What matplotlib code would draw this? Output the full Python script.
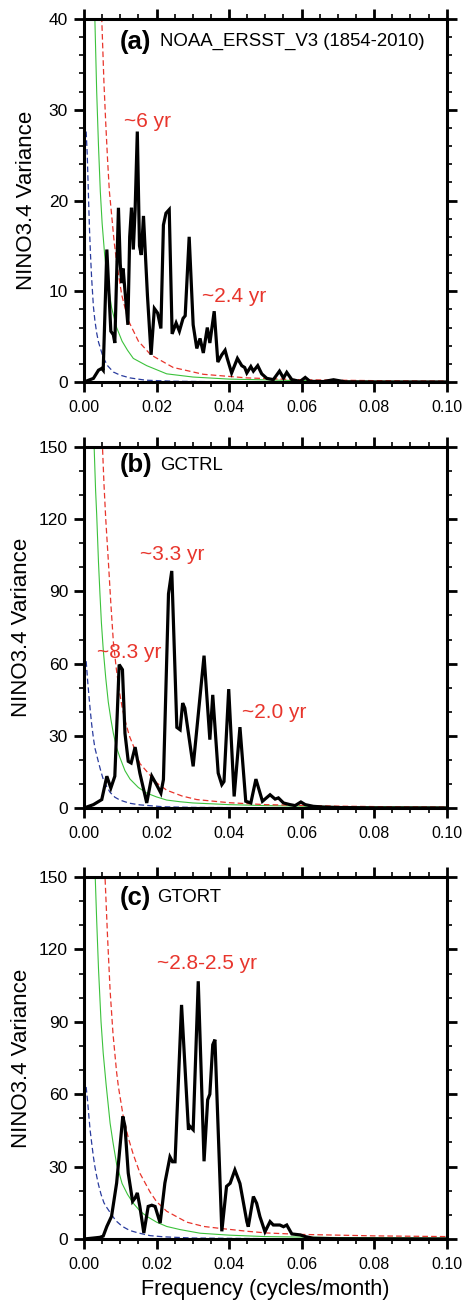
import numpy as np
import matplotlib
matplotlib.use("Agg")
import matplotlib.pyplot as plt
from matplotlib.ticker import MultipleLocator, FormatStrFormatter

plt.rcParams['font.family'] = ['Liberation Sans', 'DejaVu Sans']

# ---- data (frequency in cycles/month, variance) ----
# panel (a) NOAA_ERSST_V3
freq_a = [0.0, 0.0026, 0.004, 0.0049, 0.0053, 0.0063, 0.0074, 0.0081, 0.0085, 0.0095,
          0.0100, 0.0104, 0.0108, 0.0111, 0.0121, 0.0126, 0.0131, 0.0136, 0.0141, 0.0147,
          0.0153, 0.0158, 0.0164, 0.0175, 0.0185, 0.0194, 0.0203, 0.0212, 0.0219, 0.0226,
          0.0235, 0.0243, 0.0254, 0.0263, 0.0273, 0.0279, 0.029, 0.0301, 0.0311, 0.032,
          0.0329, 0.034, 0.0347, 0.0359, 0.0369, 0.038, 0.0389, 0.0395, 0.0407, 0.0423,
          0.0435, 0.0443, 0.0449, 0.046, 0.0467, 0.0479, 0.049, 0.0504, 0.0522, 0.0539,
          0.055, 0.0559, 0.0573, 0.0596, 0.061, 0.0623, 0.066, 0.0688, 0.072, 0.08, 0.1]
var_a = [0.0, 0.4, 1.3, 1.5, 1.3, 14.6, 5.6, 5.2, 4.3, 19.2,
         13.0, 10.9, 12.5, 11.0, 6.3, 16.0, 19.2, 14.6, 19.0, 27.6,
         15.0, 14.0, 18.3, 9.5, 3.0, 8.1, 7.6, 5.9, 17.3, 18.6,
         19.0, 5.3, 6.5, 5.6, 7.0, 7.3, 16.0, 6.3, 3.7, 4.8,
         3.2, 6.0, 4.3, 7.8, 2.2, 3.0, 3.5, 2.6, 1.0, 2.6,
         1.8, 1.6, 1.0, 1.7, 1.2, 1.8, 0.9, 0.4, 0.26, 1.2,
         0.44, 1.06, 0.26, 0.07, 0.5, 0.07, 0.05, 0.25, 0.02, 0.0, 0.0]
red_f_a = [0.0045, 0.0049, 0.0055, 0.006, 0.0065, 0.007, 0.0076, 0.0083, 0.009, 0.0104,
           0.0122, 0.015, 0.0184, 0.0246, 0.0329, 0.045, 0.06, 0.08, 0.1]
red_v_a = [46, 40, 33, 28.5, 24.5, 21, 18.5, 15.5, 13.2, 9.6,
           6.8, 4.5, 3.0, 1.6, 0.85, 0.45, 0.25, 0.15, 0.1]
grn_f_a = [0.0027, 0.003, 0.0035, 0.004, 0.0045, 0.005, 0.0057, 0.0064, 0.0076, 0.009,
           0.0105, 0.012, 0.0136, 0.0173, 0.0228, 0.03, 0.04, 0.06, 0.08, 0.1]
grn_v_a = [44, 40, 32, 26, 21, 17.5, 14, 11.5, 8.2, 6.0,
           4.5, 3.5, 2.6, 1.8, 0.9, 0.55, 0.32, 0.15, 0.09, 0.06]
blu_f_a = [0.0006, 0.0009, 0.0012, 0.0015, 0.0018, 0.0021, 0.0026, 0.003, 0.0035, 0.004,
           0.0053, 0.0065, 0.0081, 0.01, 0.0127, 0.017, 0.025, 0.035, 0.05, 0.1]
blu_v_a = [27.6, 25, 21, 17, 14, 11.5, 8.3, 6.8, 5.4, 4.4,
           2.7, 1.8, 1.1, 0.75, 0.45, 0.2, 0.08, 0.04, 0.02, 0.01]

# panel (b) GCTRL
freq_b = [0.0, 0.0026, 0.0049, 0.0063, 0.0074, 0.0085, 0.0097, 0.0106, 0.0113, 0.0122,
          0.013, 0.0141, 0.0154, 0.0173, 0.0187, 0.02, 0.0212, 0.0219, 0.0233, 0.0242,
          0.0256, 0.0265, 0.0272, 0.0278, 0.0301, 0.0331, 0.0347, 0.0355, 0.037, 0.038,
          0.0386, 0.0399, 0.0414, 0.043, 0.0446, 0.046, 0.0474, 0.0492, 0.0513, 0.0527,
          0.0536, 0.055, 0.0568, 0.0582, 0.0598, 0.061, 0.0632, 0.066, 0.07, 0.08, 0.1]
var_b = [0.0, 1.4, 3.5, 13.2, 8.3, 13.2, 59.6, 57.5, 31.0, 19.4,
         18.7, 25.3, 14.5, 2.1, 13.2, 9.7, 6.2, 11.8, 89.0, 98.5,
         33.5, 32.5, 43.6, 41.5, 17.3, 63.3, 28.4, 47.0, 14.5, 9.7,
         11.0, 49.4, 4.8, 33.6, 2.8, 2.1, 12.0, 2.8, 5.5, 3.7,
         4.2, 2.1, 1.4, 1.0, 2.5, 1.4, 0.7, 0.4, 0.2, 0.05, 0.0]
red_f_b = [0.0049, 0.0051, 0.0055, 0.006, 0.0067, 0.0074, 0.0081, 0.0089, 0.0097, 0.0105,
           0.0113, 0.0125, 0.0141, 0.0154, 0.0173, 0.02, 0.0228, 0.027, 0.0311, 0.04,
           0.05, 0.0688, 0.085, 0.1]
red_v_b = [160, 150, 135, 120, 103, 85, 69, 58, 49, 42,
           36.5, 30, 24, 18.5, 15.2, 10.5, 7.4, 5.0, 3.5, 2.2,
           1.4, 0.8, 0.5, 0.4]
grn_f_b = [0.0026, 0.0028, 0.0032, 0.0035, 0.004, 0.0044, 0.0048, 0.0053, 0.006, 0.0067,
           0.0074, 0.0081, 0.009, 0.0099, 0.0113, 0.0127, 0.015, 0.0173, 0.02, 0.0228,
           0.0265, 0.03, 0.04, 0.05, 0.07, 0.1]
grn_v_b = [160, 150, 132, 122, 102, 89, 77, 66, 54, 44,
           37, 31, 25, 21, 15.5, 12, 8.5, 6.2, 4.6, 3.3,
           2.6, 2.1, 1.4, 1.0, 0.6, 0.35]
blu_f_b = [0.0006, 0.001, 0.0014, 0.0017, 0.0021, 0.0026, 0.003, 0.0035, 0.004, 0.0047,
           0.0053, 0.0063, 0.0072, 0.0085, 0.0099, 0.0125, 0.0154, 0.022, 0.03, 0.05, 0.1]
blu_v_b = [61, 53, 46, 41, 35, 29, 25, 22, 19, 15,
           12, 8.8, 6.5, 4.5, 3.3, 2.0, 1.3, 0.5, 0.25, 0.1, 0.05]

# panel (c) GTORT
freq_c = [0.0, 0.0026, 0.0044, 0.0053, 0.0063, 0.0076, 0.009, 0.0107, 0.0113, 0.0122,
          0.0134, 0.0141, 0.0147, 0.0154, 0.0165, 0.0177, 0.0187, 0.0196, 0.021, 0.0223,
          0.0237, 0.0244, 0.0251, 0.0269, 0.0288, 0.0292, 0.0301, 0.0315, 0.0331, 0.0341,
          0.0347, 0.0355, 0.0361, 0.038, 0.0393, 0.0403, 0.0416, 0.043, 0.0449, 0.0453,
          0.0467, 0.0476, 0.0485, 0.0499, 0.0513, 0.0522, 0.054, 0.055, 0.0559, 0.0573,
          0.0596, 0.061, 0.0632, 0.07, 0.1]
var_c = [0.0, 0.4, 0.7, 1.2, 5.2, 9.4, 23.2, 50.8, 46.7, 27.3,
         15.6, 17.0, 19.1, 13.5, 2.5, 13.5, 14.0, 13.5, 6.6, 23.2,
         34.0, 32.0, 32.0, 97.0, 45.3, 46.7, 45.3, 106.8, 32.2, 57.7,
         60.0, 80.5, 82.6, 3.2, 21.8, 23.1, 28.6, 23.0, 7.2, 5.1,
         17.6, 14.8, 9.3, 3.0, 7.2, 5.8, 5.8, 5.1, 5.8, 2.1,
         1.7, 1.0, 0.3, 0.1, 0.0]
red_f_c = [0.0055, 0.0058, 0.0065, 0.0072, 0.008, 0.009, 0.0095, 0.0108, 0.0122, 0.0136,
           0.0155, 0.0182, 0.02, 0.0228, 0.0283, 0.033, 0.0375, 0.045, 0.0504, 0.06,
           0.08, 0.1]
red_v_c = [160, 150, 125, 103, 85, 69, 63, 51, 42, 35,
           27, 19.5, 15.5, 11.5, 7.0, 5.2, 4.4, 3.2, 2.5, 1.9,
           1.3, 1.0]
grn_f_c = [0.0029, 0.0031, 0.0035, 0.004, 0.0047, 0.0053, 0.0061, 0.0072, 0.008, 0.009,
           0.0105, 0.012, 0.0136, 0.0155, 0.0173, 0.02, 0.0228, 0.0265, 0.032, 0.04,
           0.05, 0.07, 0.1]
grn_v_c = [158, 150, 132, 112, 90, 77, 64, 48, 40, 31,
           23, 18.5, 14.8, 11.5, 9.4, 7.0, 5.2, 3.9, 2.4, 1.6,
           1.0, 0.6, 0.35]
blu_f_c = [0.0006, 0.001, 0.0014, 0.0017, 0.0021, 0.0026, 0.003, 0.0035, 0.004, 0.0047,
           0.0055, 0.0063, 0.0072, 0.0081, 0.009, 0.0105, 0.0118, 0.0127, 0.015, 0.0182,
           0.022, 0.03, 0.05, 0.1]
blu_v_c = [63, 57, 50, 45, 40, 34, 30, 26, 22.5, 18.5,
           15, 13, 11, 9, 7.3, 5.3, 4.2, 3.5, 2.5, 1.4,
           0.9, 0.4, 0.15, 0.05]

panel_tags = ["(a)", "(b)", "(c)"]
panel_names = ["NOAA_ERSST_V3 (1854-2010)", "GCTRL", "GTORT"]
y_max = [40, 150, 150]
y_major = [10, 30, 30]
y_minor = [2, 10, 10]
# peak annotations: (text, freq, variance) for each panel
notes_a = [("~6 yr", 0.0110, 28.7), ("~2.4 yr", 0.0325, 9.4)]
notes_b = [("~3.3 yr", 0.0154, 105.5), ("~8.3 yr", 0.0036, 64.8), ("~2.0 yr", 0.0436, 39.5)]
notes_c = [("~2.8-2.5 yr", 0.0201, 114.0)]

RED = '#e8352c'
GREEN = '#3cc23c'
BLUE = '#2a3c9e'

fig = plt.figure(figsize=(4.63, 13.0), dpi=100)
boxes = [[0.1814, 0.70615, 0.7834, 0.27923],
         [0.1814, 0.37846, 0.7834, 0.27769],
         [0.1814, 0.04692, 0.7834, 0.27846]]
title_y = [0.937, 0.949, 0.943]
name_x = [0.2095, 0.2095, 0.2013]
ylab_x = [-0.130, -0.143, -0.143]

series = [(freq_a, var_a, red_f_a, red_v_a, grn_f_a, grn_v_a, blu_f_a, blu_v_a, notes_a),
          (freq_b, var_b, red_f_b, red_v_b, grn_f_b, grn_v_b, blu_f_b, blu_v_b, notes_b),
          (freq_c, var_c, red_f_c, red_v_c, grn_f_c, grn_v_c, blu_f_c, blu_v_c, notes_c)]

for i, (fx, vy, rf, rv, gf, gv, bf, bv, notes) in enumerate(series):
    ax = fig.add_axes(boxes[i])
    ax.plot(bf, bv, color=BLUE, lw=0.9, dashes=(4.5, 2.5))
    ax.plot(gf, gv, color=GREEN, lw=0.8)
    ax.plot(rf, rv, color=RED, lw=0.9, dashes=(4.5, 2.5))
    ax.plot(fx, vy, color='black', lw=2.3, solid_joinstyle='miter')

    ax.set_xlim(0, 0.1)
    ax.set_ylim(0, y_max[i])
    ax.xaxis.set_major_locator(MultipleLocator(0.02))
    ax.xaxis.set_minor_locator(MultipleLocator(0.005))
    ax.xaxis.set_major_formatter(FormatStrFormatter('%.2f'))
    ax.yaxis.set_major_locator(MultipleLocator(y_major[i]))
    ax.yaxis.set_minor_locator(MultipleLocator(y_minor[i]))
    ax.tick_params(which='both', direction='out', top=True, right=True,
                   labeltop=False, labelright=False)
    ax.tick_params(which='major', length=7, width=2)
    ax.tick_params(which='minor', length=3.3, width=1.2)
    ax.tick_params(axis='x', labelsize=11.5, pad=6)
    ax.tick_params(axis='y', labelsize=12.5, pad=4.5)
    for sp in ax.spines.values():
        sp.set_linewidth(2.2)

    ax.set_ylabel("NINO3.4 Variance", fontsize=16)
    ax.yaxis.set_label_coords(ylab_x[i], 0.5)

    ax.text(0.0993, title_y[i], panel_tags[i], transform=ax.transAxes,
            fontsize=18.5, fontweight='bold', va='center', ha='left')
    ax.text(name_x[i], title_y[i], panel_names[i], transform=ax.transAxes,
            fontsize=13.4, va='center', ha='left')
    for txt, nx, ny in notes:
        ax.text(nx, ny, txt, color=RED, fontsize=15, va='center', ha='left')

    if i == 2:
        ax.set_xlabel("Frequency (cycles/month)", fontsize=15.6, labelpad=5)

fig.savefig("out.png", dpi=100)
